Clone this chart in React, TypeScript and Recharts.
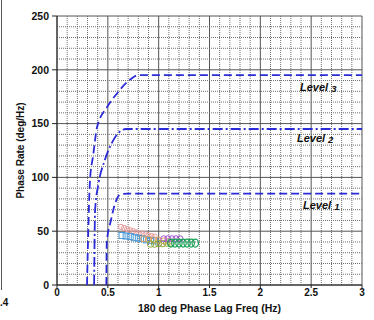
import React from 'react';
import { ComposedChart, Scatter, XAxis, YAxis, CartesianGrid, ReferenceLine } from 'recharts';

// Axis ticks
const xTicks = [0, 0.5, 1, 1.5, 2, 2.5, 3];
const yTicks = [0, 50, 100, 150, 200, 250];
const xTickLabels = ['0', '0.5', '1', '1.5', '2', '2.5', '3'];

// Fine grid every 0.1 Hz and 10 deg/Hz (majors come from the axis ticks)
const minorX = Array.from({ length: 31 }, (_, i) => i).filter((i) => i % 5 !== 0).map((i) => i / 10);
const minorY = Array.from({ length: 26 }, (_, i) => i * 10).filter((v) => v % 50 !== 0);

// Boundary curves
const level1X = [0.485, 0.49, 0.53, 0.58, 0.62, 0.7, 3];
const level1Y = [0, 40, 60, 78, 84, 85, 85];
const level2X = [0.365, 0.375, 0.41, 0.47, 0.54, 0.6, 0.68, 3];
const level2Y = [0, 70, 95, 116, 132, 141, 145, 145];
const level3X = [0.295, 0.325, 0.355, 0.395, 0.49, 0.59, 0.72, 0.8, 3];
const level3Y = [0, 98, 120, 147, 165, 178, 191, 195, 195];

// Measured response points
const pinkX = [0.63, 0.66, 0.69, 0.72, 0.75, 0.78, 0.81, 0.84, 0.87, 0.9, 0.93, 0.96];
const pinkY = [54, 53, 52, 51, 50, 49, 48, 47.5, 47, 46, 45.5, 45];
const blueX = [0.64, 0.68, 0.72, 0.76, 0.8, 0.84, 0.88, 0.92, 0.96];
const blueY = [46, 45.5, 45, 44, 43.5, 43, 42, 41.5, 41];
const orangeX = [0.85, 0.9, 0.95, 1.0, 1.05, 1.1];
const orangeY = [43, 42.5, 42, 41.5, 41, 40.5];
const oliveX = [0.92, 0.96, 1.0, 1.04, 1.08, 1.12];
const oliveY = [38, 38, 38.5, 38.5, 39, 39];
const purpleX = [1.05, 1.09, 1.13, 1.17, 1.21];
const purpleY = [43, 43, 43, 43, 43];
const greenX = [1.12, 1.16, 1.2, 1.24, 1.28, 1.32, 1.36];
const greenY = [39, 39, 39, 39, 39, 39, 39];

// Level captions
const levelNames = ['Level', 'Level', 'Level'];
const levelNums = ['3', '2', '1'];
const levelX = [2.39, 2.36, 2.42];
const levelY = [184, 137, 74];

const toPts = (xs: number[], ys: number[]) => xs.map((x, i) => ({ x, y: ys[i] }));

const levelLabels = levelNames.map((name, i) => ({ x: levelX[i], y: levelY[i], name, n: levelNums[i] }));

const FONT = '"Liberation Sans", Arial, sans-serif';
const BLUE = '#2b2bd9';

const Empty = () => <g />;

const ring = (color: string, r: number) => (p: any) =>
  <circle cx={p.cx} cy={p.cy} r={r} fill="none" stroke={color} strokeWidth={1} />;

const box = (color: string) => (p: any) =>
  <rect x={p.cx - 3} y={p.cy - 3} width={6} height={6} fill="none" stroke={color} strokeWidth={1} />;

const ovalRing = (color: string) => (p: any) =>
  <ellipse cx={p.cx} cy={p.cy} rx={3.2} ry={4} fill="none" stroke={color} strokeWidth={1.2} />;

const LevelTag = (p: any) => (
  <text x={p.cx} y={p.cy} dominantBaseline="central" fontFamily={FONT} fontWeight="bold" fontStyle="italic" fontSize={11} fill="#111">
    {p.payload.name + ' '}
    <tspan fontSize={9.5} dy={1}>{p.payload.n}</tspan>
  </text>
);

const tickStyle = { fontFamily: FONT, fontWeight: 'bold', fill: '#111' } as const;

export default function App() {
  return (
    <div style={{ position: 'absolute', left: 0, top: 0, width: 374, height: 320, background: '#fff' }}>
      <div style={{ position: 'absolute', left: 1, top: 0, width: 0, height: 290, borderLeft: '1px solid #555' }} />
      <div style={{ position: 'absolute', left: 0, top: 297, fontFamily: FONT, fontWeight: 'bold', fontSize: 10, color: '#111' }}>.4</div>
      <ComposedChart width={374} height={320} margin={{ top: 16, right: 12, bottom: 0, left: 10 }}>
        {minorX.map((v) => (
          <ReferenceLine key={'vx' + v} x={v} stroke="#6e6e6e" strokeDasharray="1 1" />
        ))}
        {minorY.map((v) => (
          <ReferenceLine key={'hy' + v} y={v} stroke="#6e6e6e" strokeDasharray="1 1" />
        ))}
        <CartesianGrid stroke="#555" />
        <XAxis
          type="number"
          dataKey="x"
          domain={[0, 3]}
          ticks={xTicks}
          tickFormatter={(v: number) => xTickLabels[xTicks.indexOf(v)] ?? String(v)}
          allowDataOverflow
          height={35}
          tickSize={3}
          tickMargin={1}
          stroke="#222"
          tick={{ ...tickStyle, fontSize: 10 }}
          label={{ value: '180 deg Phase Lag Freq (Hz)', position: 'insideBottom', offset: 8, style: { fontFamily: FONT, fontWeight: 'bold', fontSize: 10.5, fill: '#111' } }}
        />
        <YAxis
          type="number"
          dataKey="y"
          domain={[0, 250]}
          ticks={yTicks}
          allowDataOverflow
          width={47}
          tickSize={5}
          tickMargin={3}
          stroke="#222"
          tick={{ ...tickStyle, fontSize: 10.5 }}
          label={{ value: 'Phase Rate (deg/Hz)', angle: -90, position: 'insideLeft', offset: 10, style: { textAnchor: 'middle', fontFamily: FONT, fontWeight: 'bold', fontSize: 10, fill: '#111' } }}
        />

        <Scatter data={toPts(level3X, level3Y)} shape={Empty} line={{ stroke: BLUE, strokeWidth: 1.8, strokeDasharray: '8 4' }} lineJointType="monotoneX" isAnimationActive={false} />
        <Scatter data={toPts(level2X, level2Y)} shape={Empty} line={{ stroke: BLUE, strokeWidth: 1.8, strokeDasharray: '10 3 2 3' }} lineJointType="monotoneX" isAnimationActive={false} />
        <Scatter data={toPts(level1X, level1Y)} shape={Empty} line={{ stroke: BLUE, strokeWidth: 1.8, strokeDasharray: '8 4' }} lineJointType="monotoneX" isAnimationActive={false} />

        <Scatter data={toPts(pinkX, pinkY)} shape={ring('#e79a9a', 2.6)} isAnimationActive={false} />
        <Scatter data={toPts(blueX, blueY)} shape={box('#4a9ad8')} isAnimationActive={false} />
        <Scatter data={toPts(orangeX, orangeY)} shape={ring('#ec9f55', 3)} isAnimationActive={false} />
        <Scatter data={toPts(oliveX, oliveY)} shape={ring('#8fa83c', 3.2)} isAnimationActive={false} />
        <Scatter data={toPts(purpleX, purpleY)} shape={ring('#a455d2', 3)} isAnimationActive={false} />
        <Scatter data={toPts(greenX, greenY)} shape={ovalRing('#1aa158')} isAnimationActive={false} />

        <Scatter data={levelLabels} shape={LevelTag} isAnimationActive={false} />
      </ComposedChart>
    </div>
  );
}
